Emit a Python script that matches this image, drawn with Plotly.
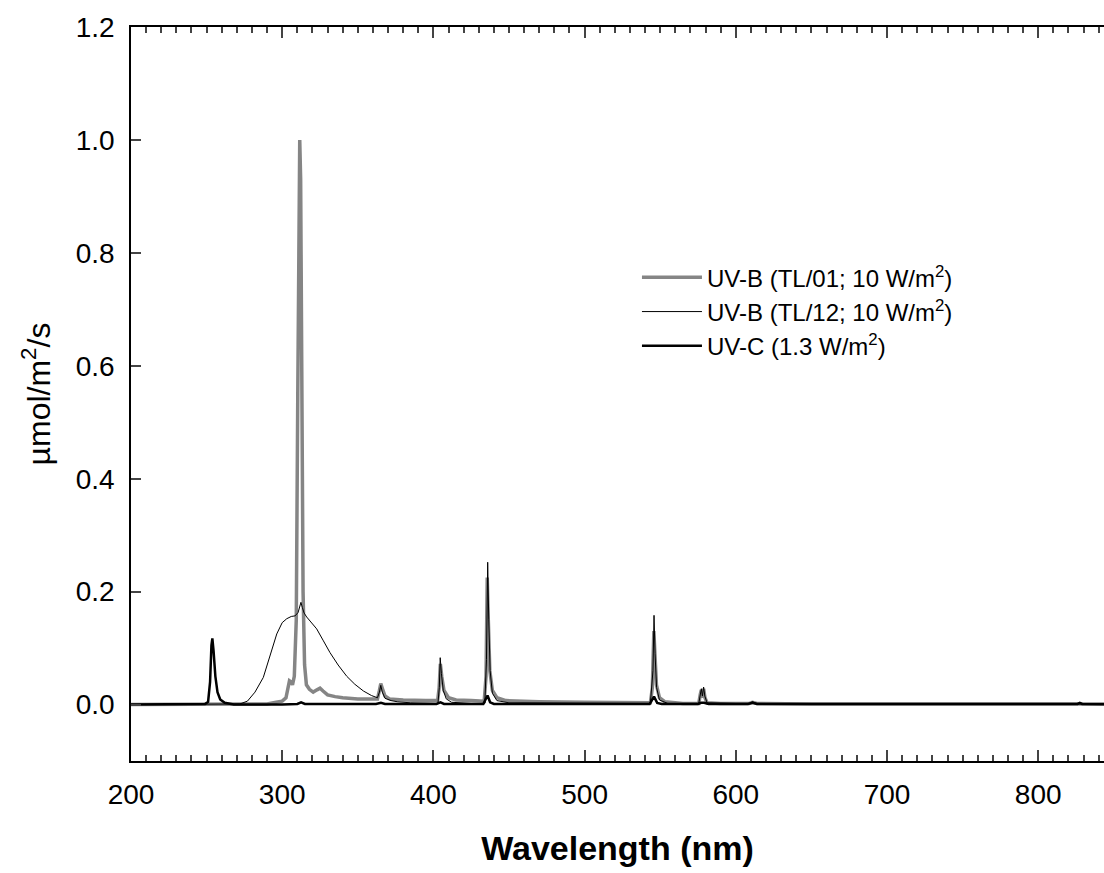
import plotly.graph_objects as go

# TL/01 narrowband UV-B
tl01_wl = [200, 280, 290, 296, 300, 302.5, 303.8, 304.8, 305.8, 306.8, 308, 309.3, 310.3, 311.0, 311.6,
           312.2, 313.0, 313.8, 314.8, 316, 318, 320.5, 323, 325, 327, 330, 335, 340, 350, 360, 363,
           364.3, 365.2, 366.3, 368, 371, 380, 395, 402.8, 403.8, 404.6, 405.5, 407, 410, 415, 425,
           433.6, 434.8, 435.6, 436.3, 437.3, 439, 442, 448, 470, 500, 530, 543.5, 544.8, 545.8, 546.5,
           547.5, 549.5, 553, 565, 575.5, 576.5, 577.2, 577.9, 578.7, 579.6, 581, 590, 609, 611, 614,
           650, 700, 800, 850]
tl01_val = [0.0, 0.0, 0.001, 0.004, 0.006, 0.012, 0.030, 0.042, 0.040, 0.035, 0.05, 0.15, 0.55, 0.92, 1.0,
            0.93, 0.55, 0.2, 0.07, 0.035, 0.027, 0.022, 0.026, 0.029, 0.024, 0.017, 0.014, 0.012, 0.010, 0.009, 0.010,
            0.025, 0.037, 0.028, 0.015, 0.010, 0.008, 0.007, 0.007, 0.03, 0.072, 0.05, 0.025, 0.012, 0.008, 0.007,
            0.006, 0.05, 0.225, 0.15, 0.06, 0.025, 0.012, 0.007, 0.005, 0.004, 0.003, 0.003, 0.03, 0.13, 0.09,
            0.035, 0.012, 0.005, 0.002, 0.002, 0.018, 0.026, 0.012, 0.028, 0.012, 0.003, 0.002, 0.002, 0.004, 0.002,
            0.001, 0.001, 0.001, 0.001]

# TL/12 broadband UV-B
tl12_wl = [200, 265, 272, 277, 282, 287.5, 292, 296.4, 300, 303, 306, 308.5, 310.5, 311.7, 312.4, 313.3,
           314.5, 316.2, 319, 322.8, 327, 331.6, 337, 342.7, 348, 353.7, 359, 363, 364.3, 365.2, 366.2,
           368, 372, 376, 385, 395, 403, 403.9, 404.5, 405.3, 406.5, 408.5, 412, 425, 434, 435.1, 435.9,
           436.6, 437.5, 439, 442, 450, 500, 543.5, 545.2, 545.9, 546.6, 547.6, 549.5, 555, 575.5, 576.6,
           577.2, 577.9, 578.7, 579.5, 581, 600, 609, 611, 614, 650, 850]
tl12_val = [0.0, 0.0, 0.001, 0.006, 0.022, 0.048, 0.085, 0.125, 0.145, 0.152, 0.156, 0.157, 0.163, 0.172, 0.181, 0.172,
            0.162, 0.155, 0.146, 0.134, 0.114, 0.092, 0.070, 0.050, 0.036, 0.024, 0.016, 0.012, 0.022, 0.034, 0.022,
            0.011, 0.007, 0.005, 0.003, 0.002, 0.002, 0.03, 0.083, 0.055, 0.025, 0.01, 0.004, 0.002, 0.002, 0.08, 0.252,
            0.15, 0.06, 0.02, 0.007, 0.003, 0.002, 0.002, 0.06, 0.158, 0.09, 0.03, 0.008, 0.002, 0.002, 0.022,
            0.028, 0.015, 0.031, 0.015, 0.003, 0.002, 0.002, 0.005, 0.002, 0.001, 0.001]

# UV-C
uvc_wl = [200, 240, 249, 251, 252.3, 253.2, 253.8, 254.6, 255.8, 257.2, 259, 262, 268, 300, 310, 312.5, 315,
          362, 365.3, 368, 402, 404.7, 407, 433, 435.8, 437.5, 440, 543, 545.9, 548, 551, 575, 577, 579,
          582, 608, 611, 614, 650, 700, 760, 826, 827.5, 829, 850]
uvc_val = [0.0, 0.0, 0.001, 0.005, 0.04, 0.105, 0.117, 0.095, 0.05, 0.022, 0.009, 0.003, 0.0, 0.0, 0.001, 0.004, 0.001,
           0.001, 0.003, 0.001, 0.001, 0.004, 0.001, 0.001, 0.016, 0.004, 0.001, 0.001, 0.014, 0.003, 0.001, 0.001, 0.003, 0.003,
           0.001, 0.001, 0.003, 0.001, 0.001, 0.0, 0.001, 0.001, 0.003, 0.001, 0.0]

series_names = ["UV-B (TL/01; 10 W/m<sup>2</sup>)", "UV-B (TL/12; 10 W/m<sup>2</sup>)", "UV-C (1.3 W/m<sup>2</sup>)"]
y_ticks = [0.0, 0.2, 0.4, 0.6, 0.8, 1.0, 1.2]
x_ticks = [200, 300, 400, 500, 600, 700, 800]

FONT = "Liberation Sans, Arial, sans-serif"

fig = go.Figure()
fig.add_trace(go.Scatter(x=tl01_wl, y=tl01_val, mode="lines", name=series_names[0],
                         line=dict(color="#858585", width=3.5)))
fig.add_trace(go.Scatter(x=tl12_wl, y=tl12_val, mode="lines", name=series_names[1],
                         line=dict(color="#000000", width=1)))
fig.add_trace(go.Scatter(x=uvc_wl, y=uvc_val, mode="lines", name=series_names[2],
                         line=dict(color="#000000", width=2.5)))

fig.update_layout(
    width=1104, height=873,
    margin=dict(l=131, r=0, t=27, b=112),
    paper_bgcolor="white", plot_bgcolor="white",
    font=dict(family=FONT, color="black"),
    showlegend=True,
    legend=dict(x=0.52, y=0.689, xanchor="left", yanchor="top",
                font=dict(size=24, family=FONT), bgcolor="rgba(0,0,0,0)",
                itemwidth=60),
    xaxis=dict(range=[200, 843.5], tickvals=x_ticks, ticks="inside", ticklen=11, tickwidth=1.5,
               showline=True, linecolor="black", linewidth=1.5, mirror="ticks",
               showgrid=False, zeroline=False, tickfont=dict(size=28, family=FONT),
               minor=dict(dtick=10, ticks="inside", ticklen=6, tickwidth=1.5, showgrid=False),
               ticklabelstandoff=8,
               title=dict(text="<b>Wavelength (nm)</b>", font=dict(size=34, family=FONT), standoff=27)),
    yaxis=dict(range=[-0.1, 1.2], tickvals=y_ticks, tickformat=".1f", ticks="inside", ticklen=10, tickwidth=1.5,
               showline=True, linecolor="black", linewidth=1.5, mirror=False,
               showgrid=False, zeroline=False, tickfont=dict(size=28, family=FONT),
               ticklabelstandoff=9,
               title=dict(text="µmol/m<sup>2</sup>/s", font=dict(size=32, family=FONT), standoff=16)),
)

fig.write_html("out.html", config={"displayModeBar": False},
               post_script="document.body.style.margin='0px';document.body.style.overflow='hidden';")
